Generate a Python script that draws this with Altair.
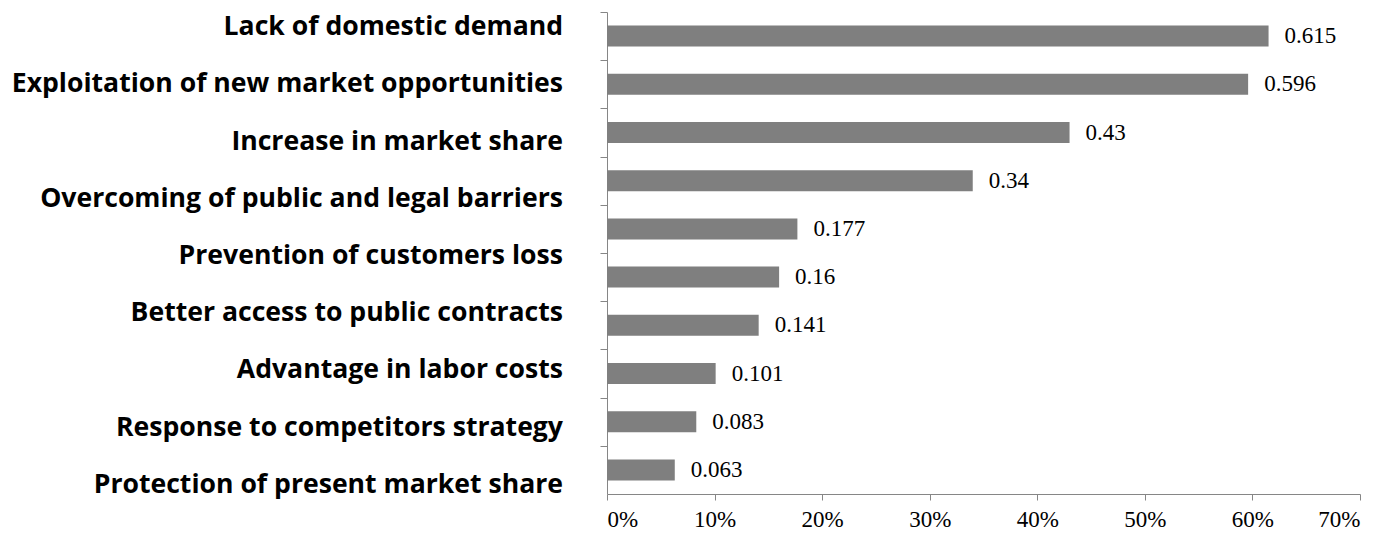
import altair as alt
import pandas as pd

# Category labels shown at the left (the source shows 9 labels for 10 bars)
labels = [
    "Lack of domestic demand",
    "Exploitation of new market opportunities",
    "Increase in market share",
    "Overcoming of public and legal barriers",
    "Prevention of customers loss",
    "Better access to public contracts",
    "Advantage in labor costs",
    "Response to competitors strategy",
    "Protection of present market share",
]
# Bars, top to bottom
bar_ids = ["b01", "b02", "b03", "b04", "b05", "b06", "b07", "b08", "b09", "b10"]
values = [0.615, 0.596, 0.43, 0.34, 0.177, 0.16, 0.141, 0.101, 0.083, 0.063]
value_text = ["0.615", "0.596", "0.43", "0.34", "0.177", "0.16", "0.141", "0.101", "0.083", "0.063"]
x_ticks = [0.0, 0.1, 0.2, 0.3, 0.4, 0.5, 0.6, 0.7]

bars_df = pd.DataFrame({"id": bar_ids, "value": values, "txt": value_text})
labels_df = pd.DataFrame({"label": labels})

GRAY = "#868686"
PI = 0.564
STEP = 482 / 10

y_bar = alt.Y(
    "id:N",
    sort=bar_ids,
    title=None,
    scale=alt.Scale(paddingInner=PI, paddingOuter=PI / 2),
    axis=alt.Axis(labels=False, title=None, bandPosition=0,
                  tickOffset=-(STEP * PI / 2), tickSize=7,
                  tickColor=GRAY, domainColor=GRAY, grid=False),
)
x_enc = alt.X(
    "value:Q",
    title=None,
    scale=alt.Scale(domain=[0, 0.7], nice=False),
    axis=alt.Axis(values=x_ticks, format=".0%", grid=False, tickSize=6,
                  tickColor=GRAY, domainColor=GRAY, labelColor="black",
                  labelFont="Liberation Serif", labelFontSize=23,
                  labelPadding=8),
)

bars = alt.Chart(bars_df).mark_bar(color="#7f7f7f").encode(x=x_enc, y=y_bar)
vals = alt.Chart(bars_df).mark_text(
    align="left", baseline="middle", dx=16, font="Liberation Serif",
    fontSize=23, color="black",
).encode(x=alt.X("value:Q"), y=alt.Y("id:N", sort=bar_ids), text="txt:N")

lab = alt.Chart(labels_df).mark_text(
    align="right", baseline="middle", font="Open Sans", fontWeight="bold",
    fontSize=26.6, color="black", dy=3,
).encode(
    x=alt.value(-44),
    y=alt.Y("label:N", sort=labels, axis=None,
            scale=alt.Scale(type="point", padding=0.21)),
    text="label:N",
)

chart = (
    alt.layer(alt.layer(bars, vals), lab)
    .resolve_scale(y="independent")
    .properties(
        width=753,
        height=482,
        padding={"left": 599, "top": 4, "right": 20, "bottom": 40},
        autosize=alt.AutoSizeParams(type="none"),
        background="white",
    )
    .configure_view(stroke=None)
)

chart.save("out.html", embed_options={"renderer": "svg", "actions": False})
